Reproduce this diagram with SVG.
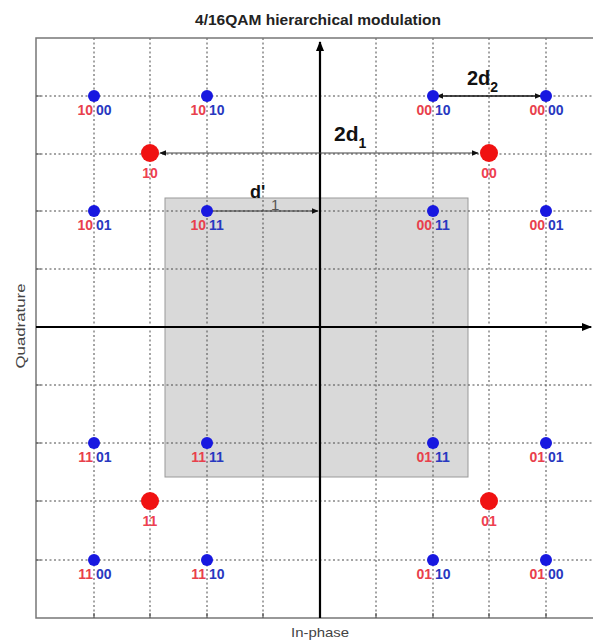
<svg xmlns="http://www.w3.org/2000/svg" width="593" height="642" viewBox="0 0 593 642">
<style>
.grid{stroke:#4a4a4a;stroke-width:1;stroke-dasharray:2 2.5;fill:none}
.frame{stroke:#777;stroke-width:1.5;fill:none}
.axis{stroke:#000;stroke-width:2.2;fill:none}
.bdot{fill:#1818e0}
.rdot{fill:#f01212}
.lr{font-family:"Liberation Sans",Arial,sans-serif;font-weight:bold;font-size:14px;fill:#e8404c;text-anchor:end}
.lb{font-family:"Liberation Sans",Arial,sans-serif;font-weight:bold;font-size:14px;fill:#2838c0;text-anchor:start}
.l4{font-family:"Liberation Sans",Arial,sans-serif;font-weight:bold;font-size:14px;fill:#ee4050;text-anchor:middle}
.dist{font-family:"Liberation Sans",Arial,sans-serif;font-weight:bold;fill:#111}
.ax{font-family:"Liberation Sans",Arial,sans-serif;font-size:13px;fill:#444}
</style>
<defs>
<marker id="ah" viewBox="0 0 10 10" refX="9" refY="5" markerWidth="7" markerHeight="7" orient="auto-start-reverse" markerUnits="userSpaceOnUse"><path d="M0,1 L10,5 L0,9 z" fill="#111"/></marker>
<marker id="axh" viewBox="0 0 10 10" refX="9" refY="5" markerWidth="10" markerHeight="10" orient="auto" markerUnits="userSpaceOnUse"><path d="M0,1 L10,5 L0,9 z" fill="#000"/></marker>
</defs>
<rect width="593" height="642" fill="#fff"/>
<text x="195" y="25" font-family="'Liberation Sans',Arial,sans-serif" font-weight="bold" font-size="14" fill="#222" textLength="246" lengthAdjust="spacingAndGlyphs">4/16QAM hierarchical modulation</text>
<g id="region">
<rect x="165" y="198" width="303" height="279" fill="#d9d9d9" stroke="#999" stroke-width="1"/>
</g>
<g id="grid">
<path class="grid" d="M94,38V618 M150,38V618 M207,38V618 M263,38V618 M376,38V618 M433,38V618 M489,38V618 M546,38V618"/>
<path class="grid" d="M36,96H593 M36,154H593 M36,211H593 M36,269H593 M36,327H593 M36,385H593 M36,443H593 M36,501H593 M36,560H593"/>
</g>
<g id="frame">
<path class="frame" d="M593,38H36V618H593"/>
<path d="M94,618v-5 M150,618v-5 M207,618v-5 M263,618v-5 M376,618v-5 M433,618v-5 M489,618v-5 M546,618v-5 M36,96h5 M36,154h5 M36,211h5 M36,269h5 M36,385h5 M36,443h5 M36,501h5 M36,560h5" stroke="#555" stroke-width="1.2"/>
</g>
<g id="axes">
<path class="axis" d="M36,327H591" marker-end="url(#axh)"/>
<path class="axis" d="M320,618V42" marker-end="url(#axh)"/>
<text class="ax" x="320" y="637" text-anchor="middle" textLength="58" lengthAdjust="spacingAndGlyphs">In-phase</text>
<text class="ax" transform="translate(25,326) rotate(-90)" text-anchor="middle" textLength="85" lengthAdjust="spacingAndGlyphs">Quadrature</text>
</g>
<g id="connectors">
<path d="M437,96H541" stroke="#111" stroke-width="1.5" marker-start="url(#ah)" marker-end="url(#ah)"/>
<path d="M160,153H478" stroke="#444" stroke-width="1.2" marker-start="url(#ah)" marker-end="url(#ah)"/>
<path d="M212,211H318" stroke="#333" stroke-width="1.2" marker-end="url(#ah)"/>
<text class="dist" x="467" y="85" font-size="20">2d<tspan font-size="14" dy="7">2</tspan></text>
<text class="dist" x="334" y="141" font-size="21">2d<tspan font-size="14" dy="7">1</tspan></text>
<text class="dist" x="250" y="198" font-size="18">d'</text>
<text x="271" y="210" font-family="'Liberation Sans',Arial,sans-serif" font-size="15" fill="#555">1</text>
</g>
<g id="n1000"><circle class="bdot" cx="94" cy="96" r="6"/><text class="lr" x="93" y="115">10</text><text class="lb" x="96" y="115">00</text></g>
<g id="n1010"><circle class="bdot" cx="207" cy="96" r="6"/><text class="lr" x="206" y="115">10</text><text class="lb" x="209" y="115">10</text></g>
<g id="n0010"><circle class="bdot" cx="433" cy="96" r="6"/><text class="lr" x="432" y="115">00</text><text class="lb" x="435" y="115">10</text></g>
<g id="n0000"><circle class="bdot" cx="546" cy="96" r="6"/><text class="lr" x="545" y="115">00</text><text class="lb" x="548" y="115">00</text></g>
<g id="n1001"><circle class="bdot" cx="94" cy="211" r="6"/><text class="lr" x="93" y="230">10</text><text class="lb" x="96" y="230">01</text></g>
<g id="n1011"><circle class="bdot" cx="207" cy="211" r="6"/><text class="lr" x="206" y="230">10</text><text class="lb" x="209" y="230">11</text></g>
<g id="n0011"><circle class="bdot" cx="433" cy="211" r="6"/><text class="lr" x="432" y="230">00</text><text class="lb" x="435" y="230">11</text></g>
<g id="n0001"><circle class="bdot" cx="546" cy="211" r="6"/><text class="lr" x="545" y="230">00</text><text class="lb" x="548" y="230">01</text></g>
<g id="n1101"><circle class="bdot" cx="94" cy="443" r="6"/><text class="lr" x="93" y="462">11</text><text class="lb" x="96" y="462">01</text></g>
<g id="n1111"><circle class="bdot" cx="207" cy="443" r="6"/><text class="lr" x="206" y="462">11</text><text class="lb" x="209" y="462">11</text></g>
<g id="n0111"><circle class="bdot" cx="433" cy="443" r="6"/><text class="lr" x="432" y="462">01</text><text class="lb" x="435" y="462">11</text></g>
<g id="n0101"><circle class="bdot" cx="546" cy="443" r="6"/><text class="lr" x="545" y="462">01</text><text class="lb" x="548" y="462">01</text></g>
<g id="n1100"><circle class="bdot" cx="94" cy="560" r="6"/><text class="lr" x="93" y="579">11</text><text class="lb" x="96" y="579">00</text></g>
<g id="n1110"><circle class="bdot" cx="207" cy="560" r="6"/><text class="lr" x="206" y="579">11</text><text class="lb" x="209" y="579">10</text></g>
<g id="n0110"><circle class="bdot" cx="433" cy="560" r="6"/><text class="lr" x="432" y="579">01</text><text class="lb" x="435" y="579">10</text></g>
<g id="n0100"><circle class="bdot" cx="546" cy="560" r="6"/><text class="lr" x="545" y="579">01</text><text class="lb" x="548" y="579">00</text></g>
<g id="q10"><circle class="rdot" cx="150" cy="153" r="9"/><text class="l4" x="150" y="178">10</text></g>
<g id="q00"><circle class="rdot" cx="489" cy="153" r="9"/><text class="l4" x="489" y="178">00</text></g>
<g id="q11"><circle class="rdot" cx="150" cy="501" r="9"/><text class="l4" x="150" y="526">11</text></g>
<g id="q01"><circle class="rdot" cx="489" cy="501" r="9"/><text class="l4" x="489" y="526">01</text></g>
</svg>
